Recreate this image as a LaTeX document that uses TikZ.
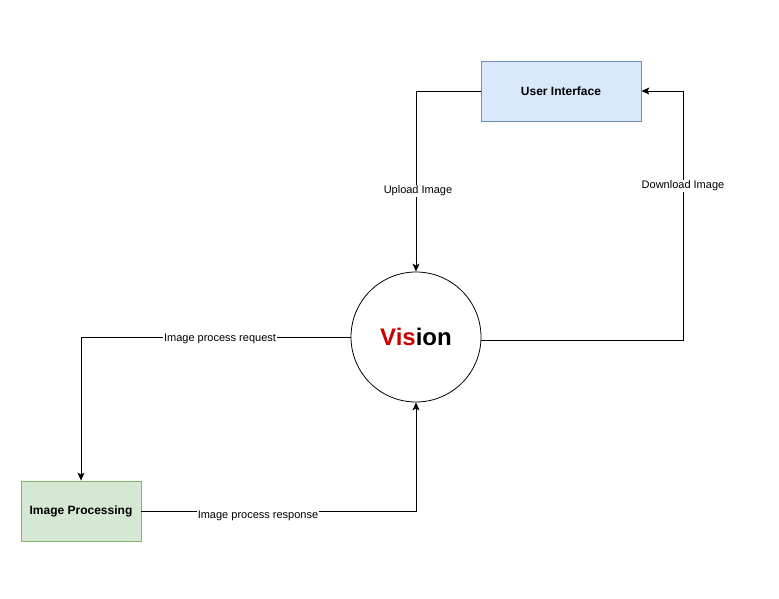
\documentclass[tikz,border=0pt]{standalone}
\usepackage{fontspec}
\setmainfont{Liberation Sans}
\usetikzlibrary{arrows.meta}
\definecolor{uifill}{HTML}{DAE8FC}
\definecolor{uidraw}{HTML}{6C8EBF}
\definecolor{ipfill}{HTML}{D5E8D4}
\definecolor{ipdraw}{HTML}{82B366}
\definecolor{visred}{HTML}{CC0000}
\begin{document}
\begin{tikzpicture}[x=1pt,y=-1pt,
  box/.style={draw, line width=0.8pt, minimum width=160pt, minimum height=60pt, inner sep=0pt,
    font=\fontsize{12}{14}\selectfont\bfseries},
  proc/.style={circle, draw, line width=0.8pt, minimum size=130pt, inner sep=0pt},
  conn/.style={draw, line width=0.9pt, -{Stealth[length=8pt,width=7pt,inset=2pt]}},
  lbl/.style={fill=white, inner sep=1pt, font=\fontsize{11}{13}\selectfont}]
\useasboundingbox (0,0) rectangle (779,599);
\node[box, fill=uifill, draw=uidraw] (ui) at (561,91) {User Interface};
\node[box, fill=ipfill, draw=ipdraw, minimum width=120pt] (ip) at (81,511) {Image Processing};
\node[proc] (circ) at (416,337) {\fontsize{24}{28}\selectfont\bfseries\textcolor{visred}{Vis}ion};
\coordinate (dlc) at (683,340);
\draw[conn] (ui.west) -| (circ.north);
\draw[conn] ([yshift=-3pt]circ.east) -- (dlc) |- (ui.east);
\draw[conn] (circ.west) -| (ip.north);
\draw[conn] (ip.east) -| (circ.south);
\node[lbl] (l1) at (418,191) {Upload Image};
\node[lbl] (l2) at (683,186) {Download Image};
\node[lbl] (l3) at (220,339) {Image process request};
\node[lbl] (l4) at (258,516) {Image process response};
\end{tikzpicture}
\end{document}
